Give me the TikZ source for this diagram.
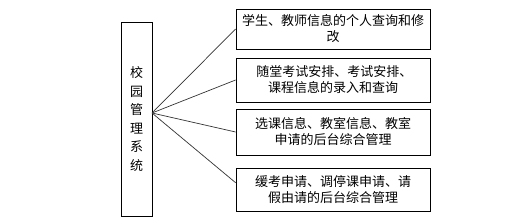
\documentclass[tikz,border=0pt]{standalone}
\usepackage{fontspec}
\setmainfont{Noto Sans CJK SC}
\usetikzlibrary{positioning}

\tikzset{
    part/.style = {draw, line width=0.8pt, minimum width=194pt, align=center, inner sep=2pt, font=\fontsize{13}{16}\selectfont},
    link/.style = {draw=black!80, line width=0.7pt}
}

\begin{document}
\begin{tikzpicture}[x=1pt, y=-1pt]
    \useasboundingbox (0,0) rectangle (532,217);
    \node[draw, line width=0.8pt, minimum width=31pt, minimum height=194pt, align=center, font=\fontsize{13}{18.6}\selectfont](sys) at (136.5,119){校\\园\\管\\理\\系\\统};
    \coordinate (hub) at (152,113);
    \node[part, minimum height=40pt](b1) at (333,29){学生、教师信息的个人查询和修\\改};
    \node[part, minimum height=44pt](b2) at (333,80){\ 随堂考试安排、考试安排、\\课程信息的录入和查询};
    \node[part, minimum height=46pt](b3) at (333,132){选课信息、教室信息、教室\\申请的后台综合管理};
    \node[part, minimum height=43pt](b4) at (333,189.5){缓考申请、调停课申请、请\\假由请的后台综合管理};
    \foreach \b/\a in {b1/west, b2/west, b3/west, b4/176}
        \path[link] (hub) -- (\b.\a);
\end{tikzpicture}
\end{document}
